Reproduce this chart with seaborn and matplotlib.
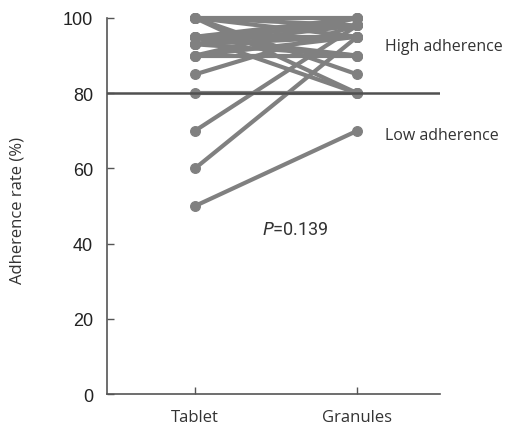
import numpy as np
import pandas as pd
import matplotlib.pyplot as plt
import seaborn as sns

# Paired adherence rates (%) per patient
tablet = [100, 100, 100, 100, 100, 95, 95, 95, 95, 95, 93, 93, 93, 93, 90, 90, 90, 85, 80, 70, 60, 50]
granules = [100, 98, 85, 80, 95, 100, 98, 95, 80, 90, 100, 98, 95, 90, 100, 95, 90, 98, 80, 98, 95, 70]
forms = ["Tablet", "Granules"]
yticks = [0, 20, 40, 60, 80, 100]
cutoff = 80
p_text = "=0.139"

n = len(tablet)
df = pd.DataFrame({
    "patient": np.repeat(np.arange(n), 2),
    "form": forms * n,
    "rate": np.ravel(np.column_stack([tablet, granules])),
})
df["x"] = df["form"].map({f: i for i, f in enumerate(forms)})

sns.set_style("ticks")
fig = plt.figure(figsize=(5.1, 4.31), dpi=100)
ax = fig.add_axes([0.21, 0.0835, 0.653, 0.8725])

grey = "#808080"
sns.lineplot(data=df, x="x", y="rate", units="patient", estimator=None,
             color=grey, lw=3, ax=ax, legend=False)
sns.scatterplot(data=df, x="x", y="rate", color=grey, s=50,
                edgecolor=grey, linewidth=0.8, ax=ax, legend=False, zorder=3)
for c in ax.collections:
    c.set_clip_on(False)
for l in ax.lines:
    l.set_clip_on(False)

ax.axhline(cutoff, color="#505050", lw=1.8, zorder=4)

ax.set_xlim(-0.542, 1.511)
ax.set_ylim(0, 100)
ax.set_xticks([0, 1])
ax.set_xticklabels(forms, family="Open Sans", fontsize=12, color="#333333")
ax.set_yticks(yticks)
ax.set_yticklabels([str(t) for t in yticks], family="Liberation Sans", fontsize=13, color="#222222")
ax.tick_params(direction="in", length=5, width=1, color="#555555", pad=10)
ax.tick_params(axis="x", pad=11)
ax.set_xlabel("")
ax.set_ylabel("Adherence rate (%)", family="Open Sans", fontsize=12, color="#333333")
ax.yaxis.set_label_coords(-0.246, 0.49)
for s in ["left", "bottom"]:
    ax.spines[s].set_color("#555555")
    ax.spines[s].set_linewidth(1.2)
sns.despine(ax=ax)

ax.text(1.17, 92.5, "High adherence", family="Open Sans", fontsize=11.5, color="#333333", va="center")
ax.text(1.17, 68.8, "Low adherence", family="Open Sans", fontsize=11.5, color="#333333", va="center")
ax.text(0.617, 44, "$P$" + p_text, family="Roboto", fontsize=13, color="#333333",
        ha="center", va="center")

fig.savefig("out.png", dpi=100)
